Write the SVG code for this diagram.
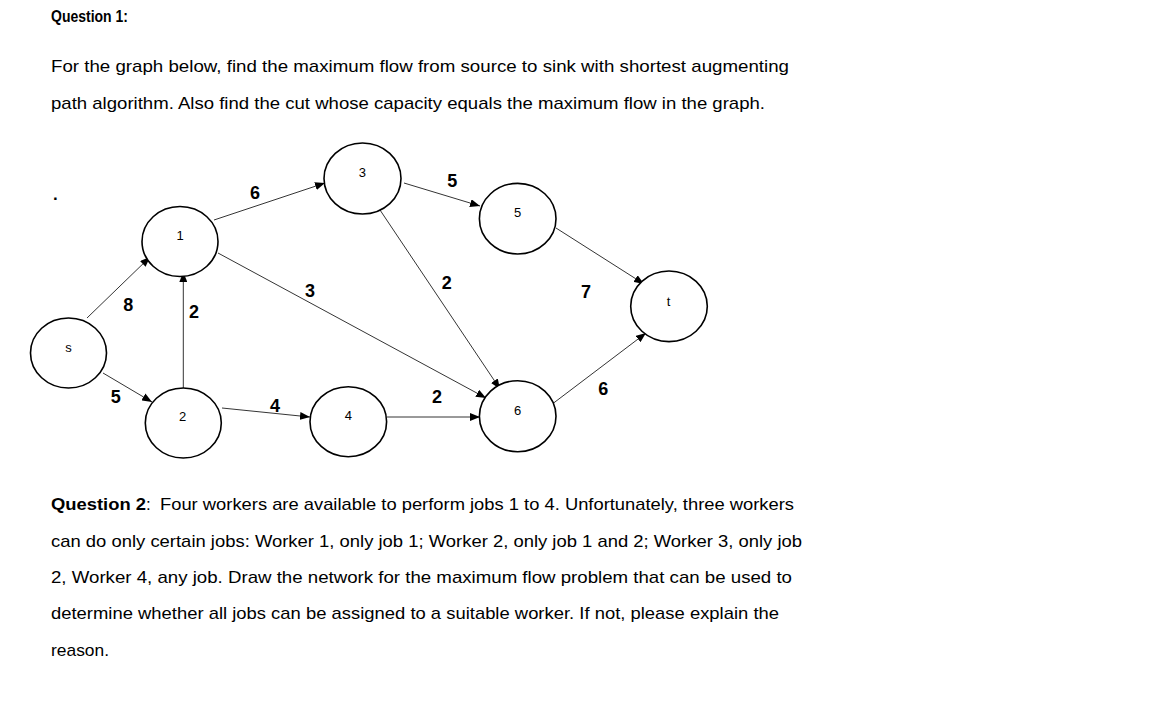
<svg xmlns="http://www.w3.org/2000/svg" width="1152" height="701" viewBox="0 0 1152 701">
<defs>
<marker id="arr" markerUnits="userSpaceOnUse" markerWidth="11" markerHeight="8" refX="10" refY="4" orient="auto">
<path d="M0,0 L10,4 L0,8 z" fill="#000"/>
</marker>
<style>
.t{font-family:"Liberation Sans",Arial,sans-serif;font-size:17px;fill:#000}
.b{font-weight:bold}
.n{fill:#fff;stroke:#000;stroke-width:1.6}
.nl{font-family:"Liberation Sans",Arial,sans-serif;font-size:13px;fill:#000;text-anchor:middle}
.el{font-family:"Liberation Sans",Arial,sans-serif;font-size:18px;font-weight:bold;fill:#000;text-anchor:middle}
.c line{stroke:#000;stroke-width:0.8;marker-end:url(#arr)}
</style>
</defs>
<rect width="1152" height="701" fill="#fff"/>
<text class="t b" x="51" y="22" textLength="77" lengthAdjust="spacingAndGlyphs">Question 1:</text>
<text class="t" x="51" y="72" textLength="738" lengthAdjust="spacingAndGlyphs">For the graph below, find the maximum flow from source to sink with shortest augmenting</text>
<text class="t" x="51" y="109" textLength="714" lengthAdjust="spacingAndGlyphs">path algorithm. Also find the cut whose capacity equals the maximum flow in the graph.</text>
<text class="t b" x="53" y="200">.</text>
<g id="connectors" class="c">
<line x1="87" y1="318" x2="150" y2="257"/>
<line x1="103" y1="373" x2="152" y2="402"/>
<line x1="183.3" y1="388" x2="183.3" y2="272"/>
<line x1="214" y1="220" x2="325" y2="183"/>
<line x1="218" y1="253" x2="486" y2="398"/>
<line x1="222" y1="408" x2="310" y2="417"/>
<line x1="387" y1="417" x2="480" y2="417"/>
<line x1="404" y1="183" x2="480" y2="206"/>
<line x1="380" y1="210" x2="500" y2="389"/>
<line x1="556" y1="228" x2="644" y2="284"/>
<line x1="547" y1="408" x2="646" y2="333"/>
</g>
<g id="node-s"><ellipse class="n" cx="68.5" cy="353" rx="38" ry="35"/><text class="nl" x="68.5" y="352">s</text></g>
<g id="node-1"><ellipse class="n" cx="180" cy="241.5" rx="38" ry="35"/><text class="nl" x="180" y="240">1</text></g>
<g id="node-2"><ellipse class="n" cx="183.3" cy="423" rx="38" ry="35"/><text class="nl" x="182.7" y="421">2</text></g>
<g id="node-3"><ellipse class="n" cx="362.5" cy="178.5" rx="38.5" ry="35.5"/><text class="nl" x="362.3" y="177">3</text></g>
<g id="node-4"><ellipse class="n" cx="348.3" cy="421.7" rx="38.3" ry="35"/><text class="nl" x="348.3" y="420">4</text></g>
<g id="node-5"><ellipse class="n" cx="517.7" cy="218.7" rx="38.3" ry="35.3"/><text class="nl" x="517.5" y="217">5</text></g>
<g id="node-6"><ellipse class="n" cx="517.7" cy="416.2" rx="38.3" ry="35.5"/><text class="nl" x="517.5" y="415">6</text></g>
<g id="node-t"><ellipse class="n" cx="669" cy="306.3" rx="38.3" ry="35.3"/><text class="nl" x="668.5" y="306">t</text></g>
<g id="edge-labels">
<text class="el" x="128.3" y="311">8</text>
<text class="el" x="194" y="318">2</text>
<text class="el" x="115.7" y="403">5</text>
<text class="el" x="255" y="199">6</text>
<text class="el" x="310" y="297">3</text>
<text class="el" x="275" y="412">4</text>
<text class="el" x="437" y="403">2</text>
<text class="el" x="452.3" y="187">5</text>
<text class="el" x="446.7" y="289">2</text>
<text class="el" x="586" y="298">7</text>
<text class="el" x="603.3" y="395">6</text>
</g>
<text class="t b" x="51" y="510" textLength="95" lengthAdjust="spacingAndGlyphs">Question 2</text>
<text class="t" x="146" y="510">:</text>
<text class="t" x="160" y="510" textLength="634" lengthAdjust="spacingAndGlyphs">Four workers are available to perform jobs 1 to 4. Unfortunately, three workers</text>
<text class="t" x="51" y="547" textLength="751" lengthAdjust="spacingAndGlyphs">can do only certain jobs: Worker 1, only job 1; Worker 2, only job 1 and 2; Worker 3, only job</text>
<text class="t" x="51" y="583" textLength="741" lengthAdjust="spacingAndGlyphs">2, Worker 4, any job. Draw the network for the maximum flow problem that can be used to</text>
<text class="t" x="51" y="619" textLength="728" lengthAdjust="spacingAndGlyphs">determine whether all jobs can be assigned to a suitable worker. If not, please explain the</text>
<text class="t" x="51" y="656" textLength="58" lengthAdjust="spacingAndGlyphs">reason.</text>
</svg>
